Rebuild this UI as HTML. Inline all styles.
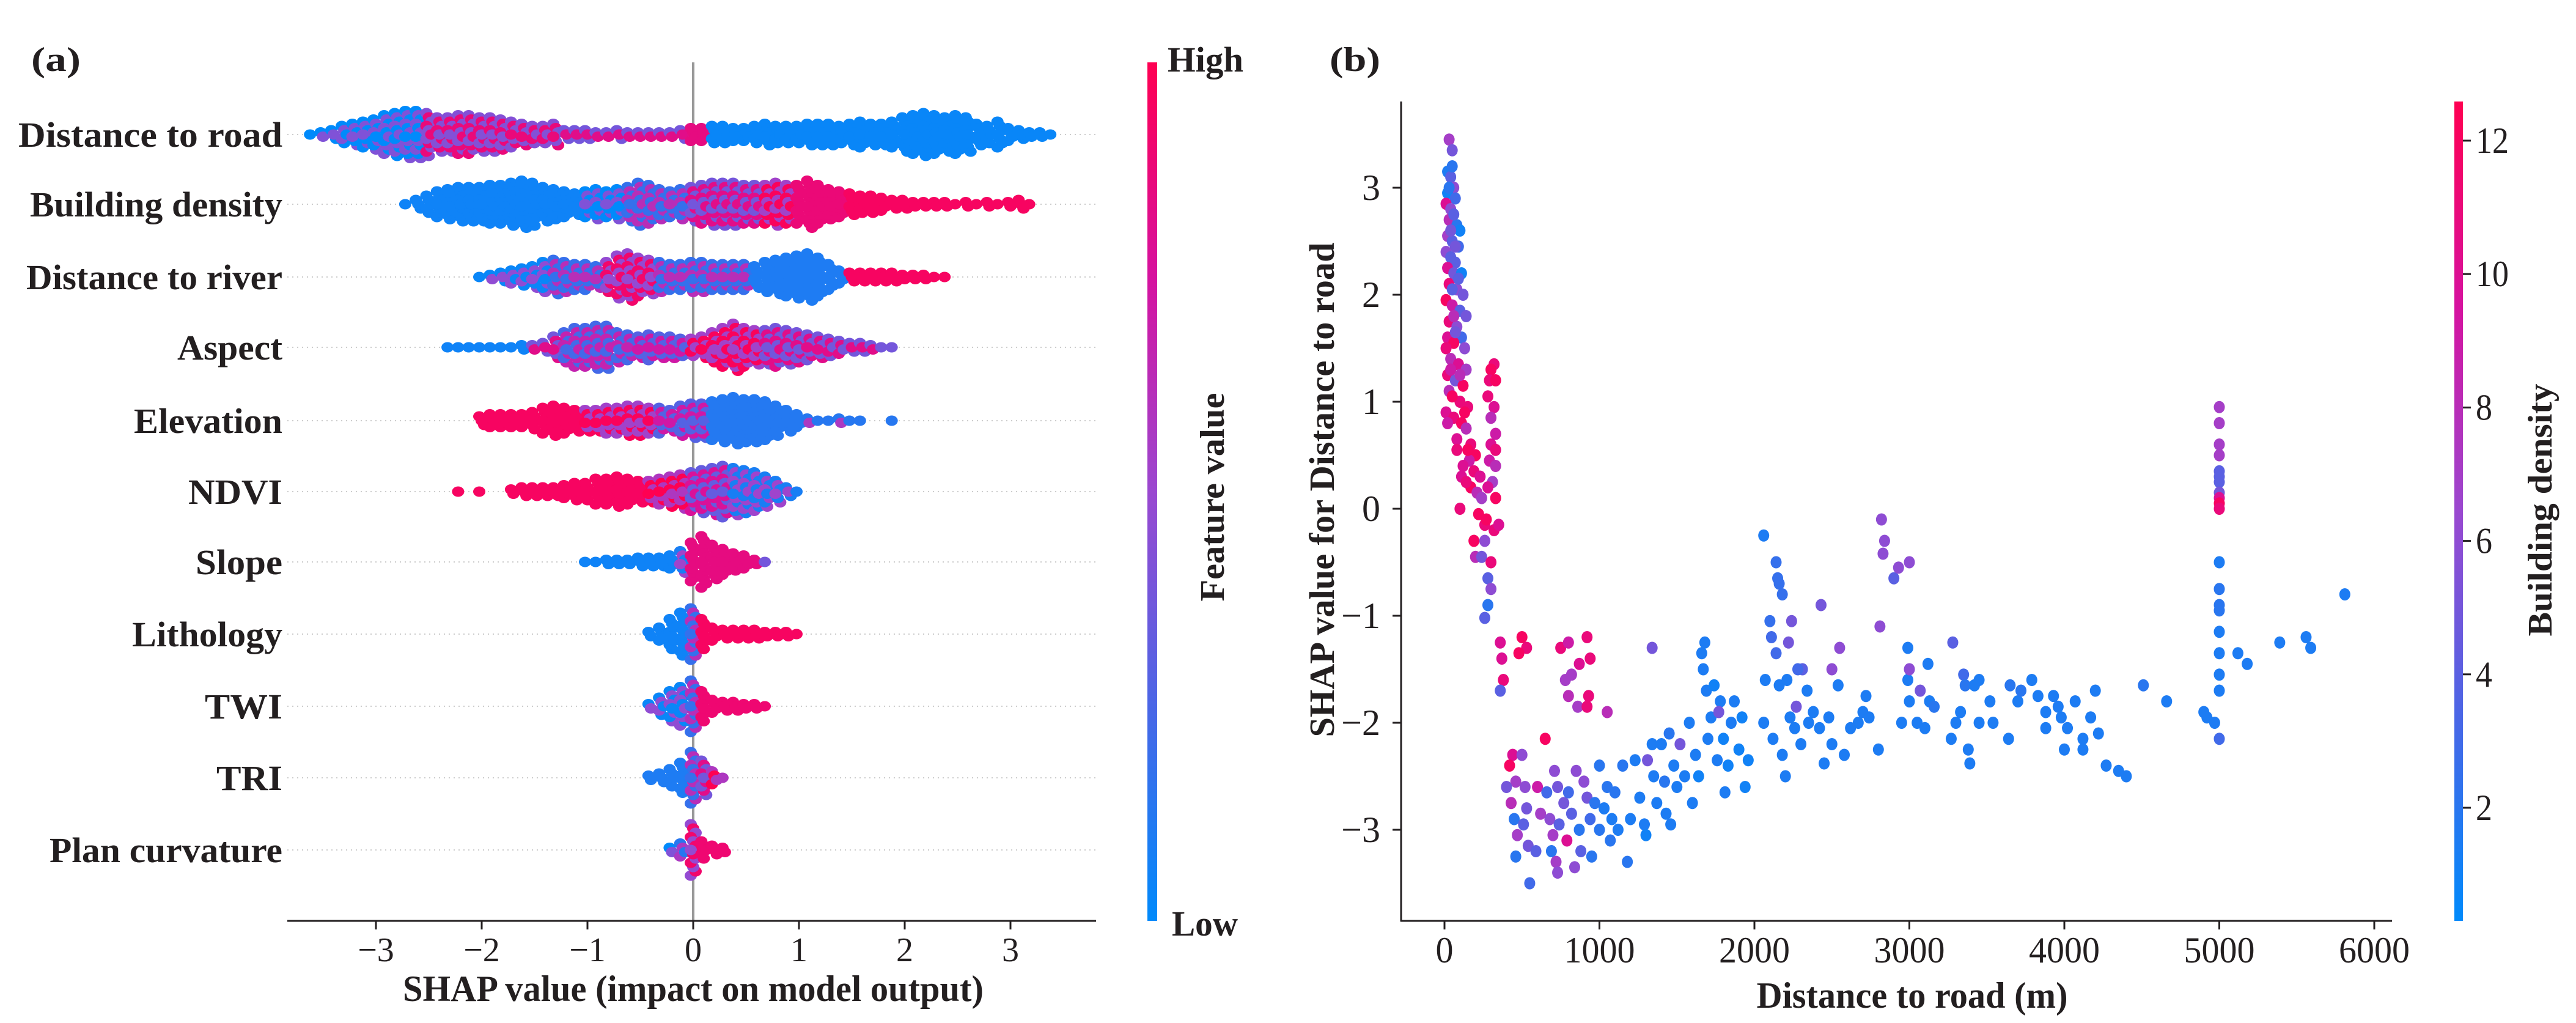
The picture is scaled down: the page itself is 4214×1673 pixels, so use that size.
<!DOCTYPE html>
<html><head><meta charset="utf-8"><style>
html,body{margin:0;padding:0;background:#fff;}
svg{display:block;font-family:"Liberation Serif",serif;}
</style></head><body>
<svg id="fig" xmlns="http://www.w3.org/2000/svg" width="4214" height="1673" viewBox="0 0 4214 1673">
<defs>
<linearGradient id="cmap" x1="0" y1="1" x2="0" y2="0">
<stop offset="0" stop-color="#008afb"/><stop offset="0.25" stop-color="#4a66e6"/><stop offset="0.5" stop-color="#9a48d0"/><stop offset="0.75" stop-color="#d6129f"/><stop offset="1" stop-color="#ff0052"/>
</linearGradient>
</defs>
<g id="panelA"></g>
<g id="panelB"></g>
</svg>
<script>
// ---------- Panel (a) data ----------
const features = ["Distance to road","Building density","Distance to river","Aspect","Elevation","NDVI","Slope","Lithology","TWI","TRI","Plan curvature"];
const featureStart = [-3.6,-2.7,-2.0,-2.3,-2.0,-2.2,-1.0,-0.4,-0.4,-0.4,-0.2];
const countsRoad = [1,2,3,5,6,7,8,10,11,12,12,11,9,9,10,10,9,9,8,7,6,5,5,6,3,3,3,2,2,3,2,2,2,2,2,3,4,4,5,5,4,4,5,6,5,5,5,6,6,6,5,6,7,6,6,7,9,10,11,10,9,10,9,6,5,7,4,3,2,2,1,0];
const countsBuilding = [1,3,5,7,8,9,9,9,10,10,11,12,11,9,8,7,6,7,8,7,8,9,11,10,8,7,8,9,10,11,11,11,10,10,10,11,10,10,12,10,8,7,6,5,5,4,3,3,2,2,2,2,1,2,1,2,1,2,3,1];
const countsRiver = [1,2,3,4,5,6,8,9,8,7,7,6,8,11,12,10,9,8,7,7,8,8,7,7,7,7,6,8,9,10,11,12,10,7,4,3,3,3,3,3,2,2,2,1,1,0];
const countsAspect = [1,1,1,1,1,1,1,2,2,3,6,8,10,10,11,11,8,7,6,7,6,6,5,5,6,8,10,12,10,9,9,10,9,8,7,6,5,4,3,3,2,1,1];
const countsElevation = [3,4,4,4,4,5,7,8,7,6,6,6,7,7,8,8,7,7,6,8,9,9,10,11,12,11,11,10,8,6,4,2,1,1,2,1,1,0,0,1];
const countsNDVI = [1,0,1,0,0,2,3,3,3,3,4,5,5,7,7,8,7,6,6,7,8,9,10,11,12,13,12,11,10,8,6,3,1];
const countsSlope = [1,1,2,2,2,3,3,3,4,6,10,13,9,7,5,4,2,1];
const countsLithology = [2,4,8,11,13,8,4,3,3,3,3,2,2,2,1];
const countsTWI = [2,5,8,10,13,8,4,3,3,2,2,1];
const countsTRI = [2,3,5,8,13,9,4,1];
const countsPlan = [2,4,13,5,3,2,0];
const colorsRoad = [[-3.6,0.2],[-2.5,0.65],[-1.2,0.6],[0.0,0.85],[0.2,0.03]];
const colorsBuilding = [[-2.7,0.05],[-1.0,0.2],[-0.6,0.4],[0.0,0.6],[0.7,0.75],[1.0,0.88],[1.5,0.95]];
const colorsRiver = [[-2.0,0.25],[-1.3,0.4],[-0.8,0.7],[-0.3,0.4],[0.6,0.1],[1.5,0.95]];
const colorsAspect = [[-2.3,0.05],[-1.5,0.6],[-1.2,0.45],[-0.5,0.5],[0.0,0.75],[0.7,0.6]];
const colorsElevation = [[-2.0,0.95],[-1.0,0.75],[-0.3,0.5],[0.2,0.12],[1.1,0.35]];
const colorsNDVI = [[-2.2,0.95],[-0.4,0.8],[0.0,0.55],[0.4,0.3]];
const colorsSlope = [[-1.0,0.05],[-0.1,0.3],[0.0,0.85],[0.7,0.6]];
const colorsLithology = [[-0.4,0.05],[0.0,0.4],[0.1,0.95]];
const colorsTWI = [[-0.4,0.25],[0.0,0.4],[0.1,0.9]];
const colorsTRI = [[-0.4,0.1],[0.0,0.4],[0.1,0.6],[0.2,0.8]];
const colorsPlan = [[-0.2,0.2],[-0.1,0.35],[0.0,0.7],[0.1,0.9]];
const shapTicks = [-3,-2,-1,0,1,2,3];
const shapTickLabels = ["\u22123","\u22122","\u22121","0","1","2","3"];

// ---------- Panel (b) data ----------
const distX = [30,50,20,40,60,20,70,10,40,30,80,100,20,50,90,10,40,70,20,60,110,30,80,120,10,50,100,140,30,80,20,110,60,130,10,40,90,140,20,70,120,30,100,150,10,60,110,140,80,170,200,160,120,190,230,170,210,240,100,220,260,190,260,200,240,300,280,300,280,260,
320,300,290,330,280,320,300,330,300,330,290,330,310,330,280,320,350,270,
360,370,380,360,500,530,480,750,800,920,940,870,820,780,800,930,860,920,1050,1340,
440,420,460,400,430,450,470,460,500,520,530,510,540,550,600,620,590,650,660,680,700,690,710,730,740,720,730,770,790,800,820,840,850,870,880,900,920,940,950,970,1000,1000,1030,1050,1070,1080,1100,1120,1150,1180,1200,1230,1260,1290,1300,1310,1340,1350,1370,1400,1420,1430,1450,1460,1480,1500,1520,1550,1580,1600,1620,1640,1660,1680,1670,1690,1700,1720,1740,1760,1780,1800,1810,1830,1850,1870,1900,1920,1940,1960,1770,
2060,2140,2150,2160,2180,2100,2110,2140,2240,2220,2430,2550,2500,2310,2280,2070,2160,2210,2340,2270,2060,2120,2180,2200,2230,2260,2300,2350,2380,2420,2450,2480,2500,2540,2580,2620,2670,2700,2720,2800,2810,2820,2840,2830,2900,2930,3000,2740,2950,2990,2990,3000,3000,3050,3070,3100,3120,3130,3160,3270,3280,3300,3330,3350,3360,3380,3390,3420,3450,3450,3520,3540,3640,3650,3700,3720,3790,3830,3880,3880,3930,3960,3980,4000,4020,4070,4120,4120,4170,4200,4220,4270,4350,4400,4510,4660,4900,4920,4970,
5000,5000,5000,5000,5000,5000,5000,5000,5000,5000,5000,5000,5000,5000,5000,5000,5000,5000,5000,5000,5120,5180,5390,5560,5590,5810,
50,30,60,40,70,90,50,60,70,40,100,50,130,20,80,150,110,140];
const shapY = [3.45,3.35,3.15,3.1,3.0,2.95,2.9,2.85,2.8,2.7,2.65,2.6,2.55,2.5,2.45,2.4,2.35,2.3,2.25,2.2,2.2,2.1,2.05,2.0,1.95,1.9,1.85,1.8,1.75,1.7,1.6,1.6,1.55,1.5,1.5,1.4,1.35,1.3,1.25,1.2,1.15,1.1,1.0,0.95,0.9,0.85,0.8,0.75,0.65,0.6,0.5,0.45,0.4,0.35,0.3,0.2,0.15,0.1,0.0,-0.05,-0.15,-0.3,-0.3,-0.45,-0.45,-0.5,-0.65,-0.75,-0.9,-1.02,
1.35,1.3,1.2,1.2,1.05,0.95,0.85,0.7,0.6,0.55,0.45,0.4,0.25,0.1,0.2,-0.2,-0.15,-0.1,
-1.25,-1.4,-1.6,-1.7,-1.2,-1.3,-1.35,-1.3,-1.25,-1.2,-1.4,-1.45,-1.55,-1.6,-1.75,-1.75,-1.85,-1.85,-1.9,-1.3,
-2.3,-2.4,-2.55,-2.6,-2.75,-2.9,-3.05,-3.25,-2.3,-2.6,-2.8,-2.95,-3.15,-3.5,-2.6,-2.85,-3.2,-2.15,-2.65,-2.9,-3.05,-3.2,-2.45,-2.6,-2.95,-3.3,-3.4,-2.75,-3.1,-2.65,-2.85,-3.35,-2.45,-3.0,-3.2,-2.55,-2.7,-2.9,-3.25,-2.75,-2.4,-3.0,-2.8,-2.6,-3.1,-2.9,-2.65,-3.0,-2.4,-3.3,-2.9,-2.35,-2.7,-2.95,-3.05,-2.35,-2.2,-2.5,-2.75,-2.2,-2.55,-2.85,-2.1,-2.95,-2.4,-2.6,-2.2,-2.5,-2.0,-2.75,-2.3,-2.5,-1.35,-1.25,-1.5,-1.7,-2.15,-1.95,-1.65,-2.35,-1.8,-2.15,-2.65,-2.4,-2.0,-1.8,-2.25,-1.95,-2.6,-2.35,-1.9,
-0.25,-0.5,-0.65,-0.7,-0.8,-1.05,-1.2,-1.35,-1.05,-1.25,-0.9,-1.3,-1.5,-1.5,-1.5,-1.6,-1.65,-1.6,-1.7,-1.85,-2.0,-2.15,-2.3,-2.5,-1.95,-2.05,-2.2,-2.0,-1.9,-2.05,-2.38,-1.95,-2.2,-1.65,-2.3,-2.05,-2.0,-1.9,-1.75,-2.25,-1.1,-0.1,-0.3,-0.42,-0.65,-0.55,-0.5,-1.95,-2.0,-1.3,-1.6,-1.8,-1.5,-2.0,-1.7,-2.05,-1.45,-1.8,-1.85,-2.15,-1.25,-2.0,-1.9,-1.55,-1.65,-2.25,-2.38,-1.65,-1.6,-2.0,-1.8,-2.0,-2.15,-1.65,-1.8,-1.7,-1.6,-1.75,-1.9,-2.05,-1.75,-1.85,-1.95,-2.25,-2.05,-1.8,-2.15,-2.25,-1.95,-1.7,-2.1,-2.4,-2.45,-2.5,-1.65,-1.8,-1.9,-1.95,-2.0,
-0.5,-0.75,-0.9,-0.95,-1.15,-1.35,-1.55,-1.7,-2.15,0.95,0.8,0.6,0.5,0.35,0.3,0.25,0.15,0.1,0.05,0.0,-1.35,-1.45,-1.25,-1.2,-1.3,-0.8,
3.2,3.0,2.75,2.6,2.45,2.15,2.05,1.8,1.65,1.3,1.25,1.05,0.9,0.8,0.55,0.55,0.3,0.25];
const densityC = [7,5,1.5,4,6,1,3,10,6,8,2,1,7,4,3,6,4,4,10,5,1,11,6,5,12,9,4,5,11,6,10,3,12,6,11,8,10,7,11,5,12,8,11,11,10,11,12,8,10,11,12,9,10,11,10,12,8,7,11,12,11,12,6,8,5,11,4,6,2,4,
11,12,11,12,11,10,8,9,10,11,9,8,7,12,10,11,10,12,
10,10,11,4,12,11,12,11,9,11,11,10,7,7,8,11,7,11,8,5,
10,12,7,5,8,2,7,2,6,6,5,4,5,3,9,7,4,12,3,6,7,2,6,5,4,7,6,5,10,3,4,6,6,2,4,6,5,3,2,2,2,2,1.5,2,2,1.5,2,1.5,2,2,1.5,1.5,1.5,1.5,1,5,1.5,1.5,1.5,1.5,2,1.5,2,1.5,1.5,1.5,5,1.5,1.5,1.5,1.5,1,1.5,1.5,1.5,1.5,1.5,1.5,1,1.5,1.5,1,1.5,1,1.5,1.5,1,1,1,1,5,
1.5,2.5,2.5,2.5,2.5,2.5,3,3,5,5,5,6,6,4,3,1.5,1.5,1.5,1.5,5,1.5,1.5,1.5,1.5,1.5,1.5,1.5,1.5,1.5,1.5,1.5,1.5,1.5,1.5,1.5,1.5,1.5,1.5,1.5,1.5,6,6,6,6,4,6,6,1.5,1.5,1.5,1.5,1.5,6,1.5,5,1.5,1.5,1.5,2,1.5,4,1.5,1.5,3,2,1.5,1.5,1.5,1.5,1.5,1.5,1.5,1.5,2,1.5,2,1.5,1.5,1.5,1.5,1.5,1.5,1.5,1.5,1.5,1.5,1.5,1.5,1.5,1.5,1.5,1.5,1.5,1.5,2,1.5,1.5,1.5,1.5,
1.5,2,2,2,1.5,1.5,1.5,1.5,3,7,7,7,7,4,4,4,5,10,12,11,1.5,1.5,1.5,1.5,1.5,1.5,
2,2,4,5,5,4,4,8,5,9,8,12,12,9,11,12,10,11];
const distTicks = [0,1000,2000,3000,4000,5000,6000];
const shapTicksB = [-3,-2,-1,0,1,2,3];
const densityTicks = [2,4,6,8,10,12];

// ---------- helpers ----------
const NS = "http://www.w3.org/2000/svg";
const A = document.getElementById("panelA");
const B = document.getElementById("panelB");
function mk(tag, parent, attrs, txt){
  const e = document.createElementNS(NS, tag);
  for (const k in attrs) e.setAttribute(k, attrs[k]);
  if (txt !== undefined) e.textContent = txt;
  parent.appendChild(e); return e;
}
const stops = [[0,[0,138,251]],[0.25,[74,102,230]],[0.5,[154,72,208]],[0.75,[214,18,159]],[1,[255,0,82]]];
function cmap(t){
  t = Math.max(0, Math.min(1, t));
  for (let i = 1; i < stops.length; i++){
    if (t <= stops[i][0]){
      const a = stops[i-1], b = stops[i], f = (t - a[0]) / (b[0] - a[0]);
      const c = a[1].map((v, k) => Math.round(v + (b[1][k] - v) * f));
      return "rgb(" + c.join(",") + ")";
    }
  }
  return "rgb(255,0,82)";
}

// ---------- Panel (a) ----------
const xA = v => 1134 + v * 173;
const rowY = [220,334,453,568,688,804,919,1037,1155,1272,1390];
const allCounts = [countsRoad,countsBuilding,countsRiver,countsAspect,countsElevation,countsNDVI,countsSlope,countsLithology,countsTWI,countsTRI,countsPlan];
const allColors = [colorsRoad,colorsBuilding,colorsRiver,colorsAspect,colorsElevation,colorsNDVI,colorsSlope,colorsLithology,colorsTWI,colorsTRI,colorsPlan];
const labelWidths = [432,413,419,172,243,154,142,246,127,108,381];

rowY.forEach((y, i) => {
  const g = mk("line", A, {x1:470, x2:1793, y1:y, y2:y, stroke:"#cccccc", "stroke-width":2, "stroke-dasharray":"2 6"});
  
  
});
const zl = mk("line", A, {x1:xA(0), x2:xA(0), y1:102, y2:1506, stroke:"#999", "stroke-width":4});



features.forEach((f, i) => {
  const g = mk("g", A, {});
  
  
  const counts = allCounts[i], segs = allColors[i];
  counts.forEach((n, b) => {
    const v = Math.round((featureStart[i] + b * 0.1) * 10) / 10;
    let c = segs[0][1];
    segs.forEach(s => { if (v >= s[0] - 1e-9) c = s[1]; });
    const mixed = c > 0.15 && c < 0.85;
    const order = [];
    for (let j = 0; j < n; j++) order.push(j);
    order.sort((p, q) => Math.abs(q - (n-1)/2) - Math.abs(p - (n-1)/2));
    order.forEach(j => {
      const dy = (j - (n - 1) / 2) * 7;
      const dx = ((j % 3) - 1) * 4;
      const cc = mixed ? c + ((j % 2) ? 0.22 : -0.22) : c;
      const d = mk("ellipse", g, {cx:xA(v) + dx, cy:rowY[i] + dy, rx:10, ry:8.5, fill:cmap(cc)});
      
      
    });
  });
});

features.forEach((f, i) => {
  const t = mk("text", A, {x:462 - labelWidths[i], y:rowY[i] + 20, "font-size":58, "font-weight":"bold", fill:"#231f20", textLength:labelWidths[i], lengthAdjust:"spacingAndGlyphs"}, f);
  
  
});

const axA = mk("line", A, {x1:470, x2:1793, y1:1506, y2:1506, stroke:"#231f20", "stroke-width":3});


shapTicks.forEach((v, i) => {
  const tk = mk("line", A, {x1:xA(v), x2:xA(v), y1:1506, y2:1520, stroke:"#231f20", "stroke-width":3});
  
  
  const tl = mk("text", A, {x:xA(v), y:1572, "font-size":56, "text-anchor":"middle", fill:"#231f20"}, shapTickLabels[i]);
  
  
});
const xt = mk("text", A, {x:659, y:1637, "font-size":60, "font-weight":"bold", fill:"#231f20", textLength:950, lengthAdjust:"spacingAndGlyphs"}, "SHAP value (impact on model output)");


const pa = mk("text", A, {x:51, y:116, "font-size":56, "font-weight":"bold", fill:"#231f20", textLength:81, lengthAdjust:"spacingAndGlyphs"}, "(a)");



const cbA = mk("rect", A, {x:1877, y:102, width:16, height:1404, fill:"url(#cmap)"});


const hi = mk("text", A, {x:1910, y:117, "font-size":58, "font-weight":"bold", fill:"#231f20", textLength:124, lengthAdjust:"spacingAndGlyphs"}, "High");


const lo = mk("text", A, {x:1917, y:1530, "font-size":58, "font-weight":"bold", fill:"#231f20", textLength:108, lengthAdjust:"spacingAndGlyphs"}, "Low");


const fv = mk("text", A, {x:0, y:0, "font-size":56, "font-weight":"bold", fill:"#231f20", "text-anchor":"middle", textLength:341, lengthAdjust:"spacingAndGlyphs", transform:"translate(2002,813) rotate(-90)"}, "Feature value");



// ---------- Panel (b) ----------
const xB = d => 2363 + d * 0.2535;
const yB = s => 832 - s * 175;
const cNorm = v => (v - 0.3) / (12.6 - 0.3);
const gPts = mk("g", B, {});


distX.forEach((d, i) => {
  const p = mk("ellipse", gPts, {cx:xB(d), cy:yB(shapY[i]), rx:9, ry:10, fill:cmap(cNorm(densityC[i]))});
  
  
});
const yax = mk("line", B, {x1:2292, x2:2292, y1:166, y2:1507, stroke:"#231f20", "stroke-width":3});


const xax = mk("line", B, {x1:2291, x2:3913, y1:1506, y2:1506, stroke:"#231f20", "stroke-width":3});


distTicks.forEach(d => {
  const tk = mk("line", B, {x1:xB(d), x2:xB(d), y1:1506, y2:1520, stroke:"#231f20", "stroke-width":3});
  
  
  const s = String(d);
  const tl = mk("text", B, {x:xB(d), y:1574, "font-size":60, "text-anchor":"middle", fill:"#231f20", textLength:s.length * 29, lengthAdjust:"spacingAndGlyphs"}, s);
  
  
});
shapTicksB.forEach(v => {
  const tk = mk("line", B, {x1:2278, x2:2292, y1:yB(v), y2:yB(v), stroke:"#231f20", "stroke-width":3});
  
  
  const s = v < 0 ? "\u2212" + Math.abs(v) : String(v);
  const tl = mk("text", B, {x:2258, y:yB(v) + 20, "font-size":60, "text-anchor":"end", fill:"#231f20"}, s);
  
  
});
const xtb = mk("text", B, {x:3128, y:1648, "font-size":60, "font-weight":"bold", "text-anchor":"middle", fill:"#231f20", textLength:509, lengthAdjust:"spacingAndGlyphs"}, "Distance to road (m)");


const ytb = mk("text", B, {x:0, y:0, "font-size":58, "font-weight":"bold", "text-anchor":"middle", fill:"#231f20", textLength:809, lengthAdjust:"spacingAndGlyphs", transform:"translate(2182,801) rotate(-90)"}, "SHAP value for Distance to road");


const pb = mk("text", B, {x:2175, y:116, "font-size":56, "font-weight":"bold", fill:"#231f20", textLength:83, lengthAdjust:"spacingAndGlyphs"}, "(b)");



const yC = v => 1321 - (v - 2) * 109.1;
const cbB = mk("rect", B, {x:4015, y:166, width:14, height:1340, fill:"url(#cmap)"});


densityTicks.forEach(v => {
  const tk = mk("line", B, {x1:4029, x2:4042, y1:yC(v), y2:yC(v), stroke:"#231f20", "stroke-width":3});
  
  
  const s = String(v);
  const tl = mk("text", B, {x:4050, y:yC(v) + 20, "font-size":60, fill:"#231f20", textLength:s.length * 27, lengthAdjust:"spacingAndGlyphs"}, s);
  
  
});
const cbt = mk("text", B, {x:0, y:0, "font-size":56, "font-weight":"bold", "text-anchor":"middle", fill:"#231f20", textLength:413, lengthAdjust:"spacingAndGlyphs", transform:"translate(4174,834) rotate(-90)"}, "Building density");


</script>
</body></html>
